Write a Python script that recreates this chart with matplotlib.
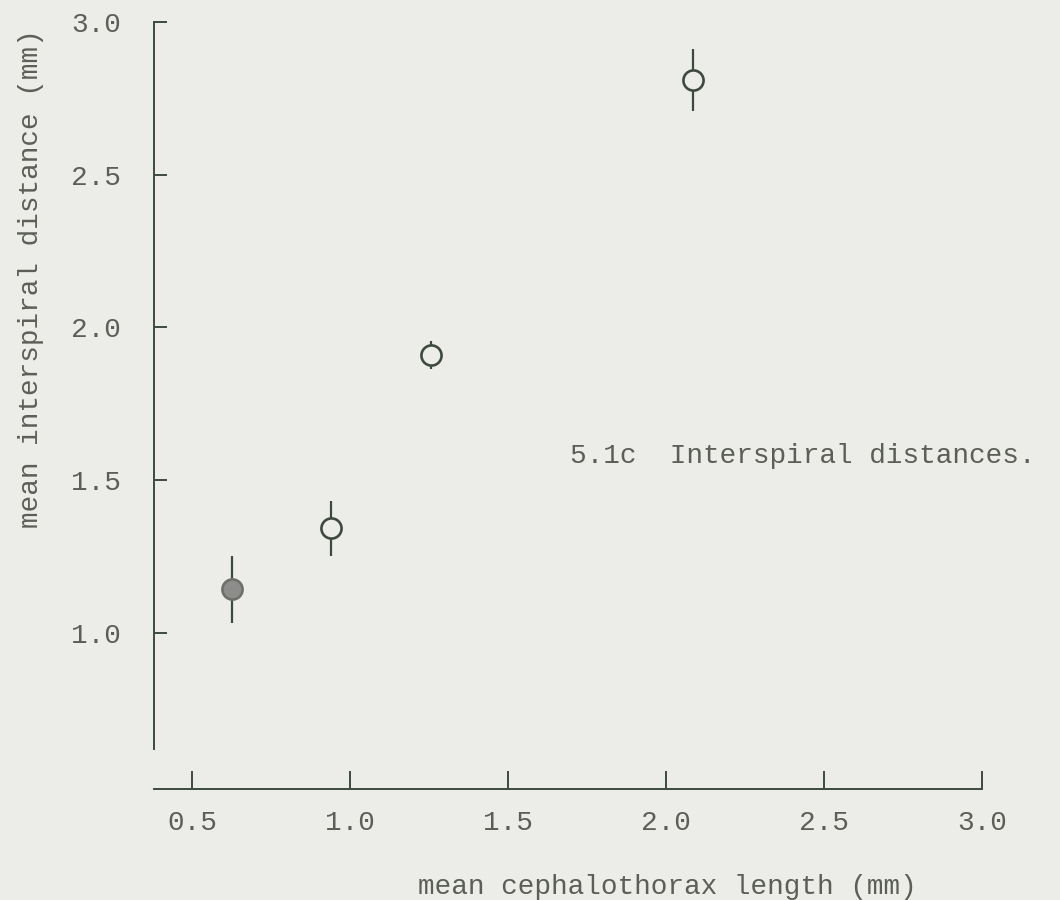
import matplotlib.pyplot as plt

# values
ceph_len = [0.627, 0.940, 1.255, 2.086]
interspiral = [1.143, 1.343, 1.910, 2.810]
err = [0.109, 0.090, 0.046, 0.100]
filled = [True, False, False, False]

xticks = [0.5, 1.0, 1.5, 2.0, 2.5, 3.0]
yticks = [1.0, 1.5, 2.0, 2.5, 3.0]

paper = '#ecece9'
ink = '#3e4a40'
txt = '#5c5f58'

plt.rcParams['font.family'] = ['Liberation Mono', 'DejaVu Sans Mono']

fig = plt.figure(figsize=(10.6, 9), dpi=100, facecolor=paper)
ax = fig.add_axes([0.1455, 0.1236, 0.7934, 0.8588], facecolor=paper)

for x, y, e, f in zip(ceph_len, interspiral, err, filled):
    ax.errorbar(x, y, yerr=e, fmt='o', ms=14.5, mew=1.9,
                mfc='#8d8e8b' if f else paper, mec=ink if not f else '#6f706c',
                ecolor=ink, elinewidth=1.6, capsize=0, zorder=3)

ax.set_xlim(0.38, 3.041)
ax.set_ylim(0.49, 3.02)

ax.spines['top'].set_visible(False)
ax.spines['right'].set_visible(False)
ax.spines['left'].set_bounds(0.62, 3.0)
ax.spines['bottom'].set_bounds(0.38, 3.0)
for s in ['left', 'bottom']:
    ax.spines[s].set_color(ink)
    ax.spines[s].set_linewidth(1.4)

ax.set_xticks(xticks)
ax.set_yticks(yticks)
ax.set_xticklabels(['%.1f' % v for v in xticks])
ax.set_yticklabels(['%.1f' % v for v in yticks])
ax.tick_params(axis='x', direction='in', length=13, width=1.4, color=ink,
               pad=15, labelsize=20, labelcolor=txt)
ax.tick_params(axis='y', direction='in', length=9.5, width=1.4, color=ink,
               pad=24, labelsize=20, labelcolor=txt)

ax.set_xlabel('mean cephalothorax length (mm)', fontsize=20, color=txt)
ax.xaxis.set_label_coords(0.61, -0.11)
ax.set_ylabel('mean interspiral distance (mm)', fontsize=20, color=txt)
ax.yaxis.set_label_coords(-0.1315, 0.66)

ax.text(1.694, 1.58, '5.1c  Interspiral distances.', fontsize=20, color=txt,
        ha='left', va='center')

fig.savefig('out.png', dpi=100, facecolor=paper)
